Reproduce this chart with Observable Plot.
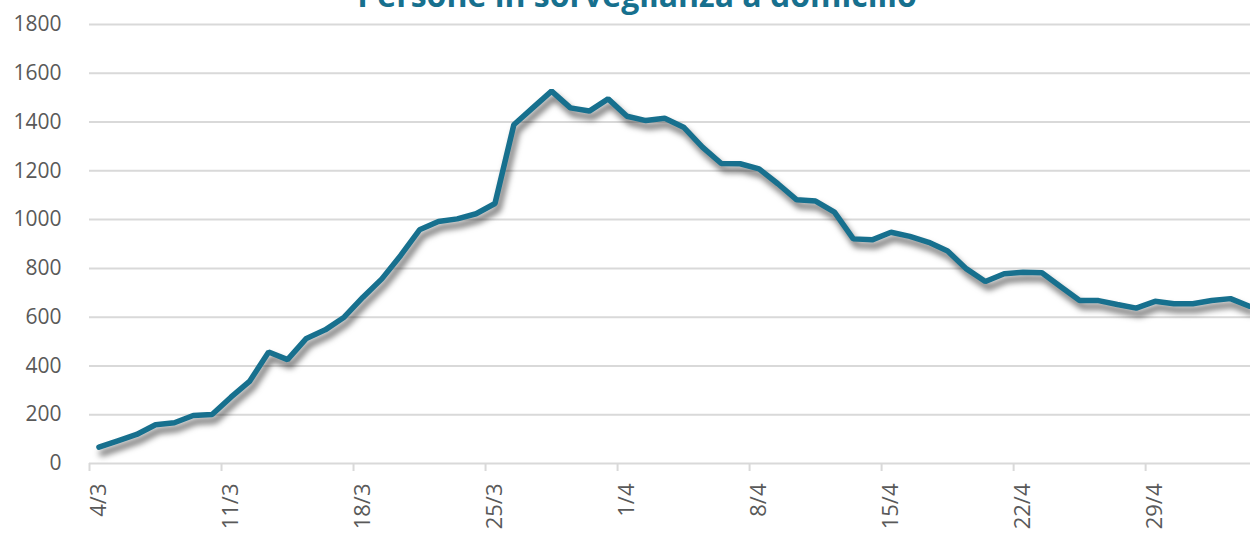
<!DOCTYPE html>
<html>
<head>
<meta charset="utf-8">
<script src="https://cdn.jsdelivr.net/npm/d3@7"></script>
<script src="https://cdn.jsdelivr.net/npm/@observablehq/plot@0.6"></script>
<style>
  body { margin: 0; background: #fff; overflow: hidden; }
  #wrap { position: relative; width: 1250px; height: 533px; overflow: hidden; }
  #title {
    position: absolute; left: 237px; width: 800px; top: -21px;
    text-align: center; white-space: nowrap;
    font-family: "Open Sans", sans-serif; font-weight: 700; font-size: 32px; line-height: 1;
    color: #17708e; z-index: 2;
  }
  #chart svg { display: block; }
  g[aria-label="line"] { filter: drop-shadow(3px 6px 3px rgba(0,0,0,0.6)); }
</style>
</head>
<body>
<div id="wrap">
  <div id="title">Persone in sorveglianza a domicilio</div>
  <div id="chart"></div>
</div>
<script>
const dates = [
  "4/3","5/3","6/3","7/3","8/3","9/3","10/3","11/3","12/3","13/3","14/3","15/3","16/3","17/3",
  "18/3","19/3","20/3","21/3","22/3","23/3","24/3","25/3","26/3","27/3","28/3","29/3","30/3","31/3",
  "1/4","2/4","3/4","4/4","5/4","6/4","7/4","8/4","9/4","10/4","11/4","12/4","13/4","14/4",
  "15/4","16/4","17/4","18/4","19/4","20/4","21/4","22/4","23/4","24/4","25/4","26/4","27/4","28/4",
  "29/4","30/4","1/5","2/5","3/5","4/5"
];
const values = [
  67, 93, 119, 159, 167, 197, 201, 272, 338, 457, 426, 513, 548, 600,
  682, 757, 853, 958, 992, 1003, 1024, 1066, 1389, 1458, 1527, 1458, 1445, 1495,
  1424, 1406, 1416, 1379, 1297, 1230, 1229, 1208, 1147, 1081, 1076, 1031, 921, 917,
  948, 931, 907, 871, 798, 746, 778, 784, 782, 725, 668, 668, 652, 637,
  665, 655, 655, 668, 676, 645
];
const tickLabels = ["4/3","11/3","18/3","25/3","1/4","8/4","15/4","22/4","29/4"];
const yTicks = [0, 200, 400, 600, 800, 1000, 1200, 1400, 1600, 1800];

const data = dates.map((d, i) => ({i, date: d, value: values[i]}));
const labelIdx = tickLabels.map(t => dates.indexOf(t));
const boundaries = labelIdx.map(i => i - 0.5);

const chart = Plot.plot({
  width: 1250,
  height: 533,
  marginLeft: 89,
  marginRight: 0,
  marginTop: 24,
  marginBottom: 70,
  x: {type: "linear", domain: [-0.5, 61.06]},
  y: {domain: [0, 1800]},
  style: {fontFamily: "'Open Sans', sans-serif", background: "transparent", overflow: "visible"},
  marks: [
    Plot.ruleY(yTicks, {stroke: "#d9d9d9", strokeWidth: 2}),
    Plot.axisY({ticks: yTicks, tickSize: 0, tickPadding: 28, tickFormat: d => String(d), fontSize: 21, fill: "#595959", label: null}),
    Plot.axisX({ticks: boundaries, tickSize: 8, tickFormat: () => "", stroke: "#d9d9d9", strokeWidth: 2, label: null}),
    Plot.axisX({ticks: labelIdx, tickSize: 0, tickPadding: 20, tickRotate: -90, tickFormat: i => dates[i], fontSize: 22, fill: "#595959", label: null}),
    Plot.line(data, {x: "i", y: "value", stroke: "#17708e", strokeWidth: 5.5, strokeLinejoin: "miter"})
  ]
});
document.getElementById("chart").appendChild(chart);
</script>
</body>
</html>
